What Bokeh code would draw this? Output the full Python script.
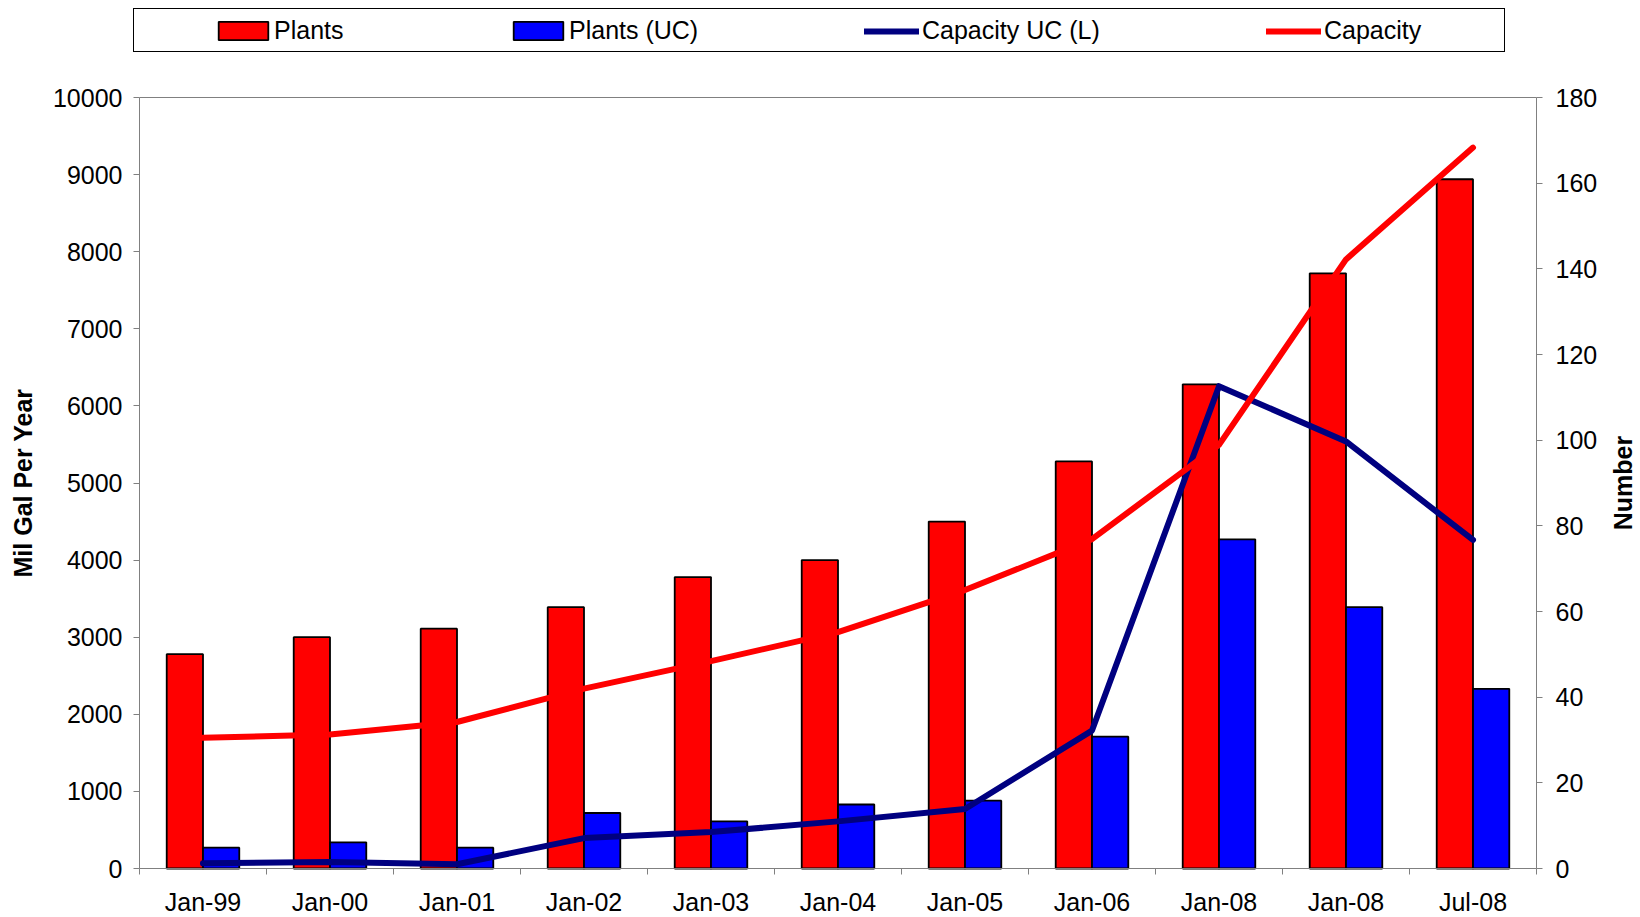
import math
from bokeh.plotting import figure
from bokeh.models import (Range1d, LinearAxis, FixedTicker, Legend, LegendItem,
                          ColumnDataSource, Label)
from bokeh.embed import file_html
from bokeh.resources import INLINE

# ---------------- data ----------------
categories = ["Jan-99", "Jan-00", "Jan-01", "Jan-02", "Jan-03", "Jan-04",
              "Jan-05", "Jan-06", "Jan-08", "Jan-08", "Jul-08"]
plants = [2780, 3000, 3110, 3390, 3780, 4000, 4500, 5280, 6280, 7720, 8940]
plants_uc = [270, 340, 270, 720, 610, 830, 880, 1710, 4270, 3390, 2330]
capacity_uc = [1.2, 1.5, 1.0, 7.1, 8.5, 11.0, 13.9, 32.2, 112.6, 99.7, 76.7]
capacity = [30.5, 31.3, 34.2, 42.0, 48.4, 55.2, 65.0, 76.9, 98.9, 142.2, 168.3]
left_max, right_max = 10000, 180
left_ticks = list(range(0, left_max + 1, 1000))
right_ticks = list(range(0, right_max + 1, 20))

FONT = "Liberation Sans"
FS = "25px"
RED = "#FF0000"
BLUE = "#0000FF"
NAVY = "#000080"
GRAY = "#808080"

# ---------------- layout constants (pixels inside the figure) ----------------
W, H = 1638, 917
PLOT_L, PLOT_R = 139, 1536   # pixel columns of the plot-area edges
AX_TOP, AX_ZERO = 97, 868    # pixel rows of the axis maximum and of zero

n = len(categories)
px_per_cat = (PLOT_R - PLOT_L) / n
x_lo = -PLOT_L / px_per_cat
x_hi = n + (W - PLOT_R) / px_per_cat
px_per_left = (AX_ZERO - AX_TOP) / left_max
px_per_right = (AX_ZERO - AX_TOP) / right_max
y_lo = -(H - AX_ZERO) / px_per_left
y_hi = left_max + AX_TOP / px_per_left
yr_lo = -(H - AX_ZERO) / px_per_right
yr_hi = right_max + AX_TOP / px_per_right

bar_w = 1 / 3.5
centers = [i + 0.5 for i in range(n)]
boundaries = [float(i) for i in range(n + 1)]

src = ColumnDataSource(dict(
    xc=centers,
    xr=[c - bar_w / 2 for c in centers],
    xb=[c + bar_w / 2 for c in centers],
    plants=plants, plants_uc=plants_uc,
    capacity_uc=capacity_uc, capacity=capacity,
))

p = figure(width=W, height=H, x_range=Range1d(x_lo, x_hi), y_range=Range1d(y_lo, y_hi),
           output_backend="svg", toolbar_location=None,
           x_axis_location=None, y_axis_location=None,
           min_border_left=0, min_border_right=0,
           min_border_top=0, min_border_bottom=0)
p.extra_y_ranges = {"right": Range1d(yr_lo, yr_hi)}
p.grid.visible = False
p.outline_line_color = None
p.background_fill_color = "white"
p.border_fill_color = "white"

def style_axis(ax):
    ax.axis_line_color = GRAY
    ax.major_tick_line_color = GRAY
    ax.minor_tick_line_color = GRAY
    ax.major_label_text_font = FONT
    ax.major_label_text_font_size = FS
    ax.major_label_text_color = "black"
    ax.axis_label_text_font = FONT
    ax.axis_label_text_font_size = FS
    ax.axis_label_text_font_style = "bold"
    ax.axis_label_text_color = "black"

left = LinearAxis(ticker=FixedTicker(ticks=left_ticks), axis_label="Mil Gal Per Year",
                  bounds=(0, left_max), fixed_location=0)
style_axis(left)
left.major_tick_out = 6
left.major_tick_in = 0
left.minor_tick_out = 0
left.minor_tick_in = 0
left.major_label_standoff = 11
left.axis_label_standoff = 13
p.add_layout(left, "left")

right = LinearAxis(y_range_name="right", ticker=FixedTicker(ticks=right_ticks),
                   bounds=(0, right_max), fixed_location=n)
style_axis(right)
right.major_tick_out = 6
right.major_tick_in = 0
right.minor_tick_out = 0
right.minor_tick_in = 0
right.major_label_standoff = 13
p.add_layout(right, "right")

# right axis title, reading bottom-to-top, centred on the axis
p.add_layout(Label(x=1622, y=H - (AX_TOP + AX_ZERO) / 2, x_units="screen", y_units="screen",
                   text="Number", angle=math.pi / 2, text_align="center",
                   text_baseline="middle", text_font=FONT, text_font_size=FS,
                   text_font_style="bold", text_color="black"))

bottom = LinearAxis(ticker=FixedTicker(ticks=centers, minor_ticks=boundaries),
                    major_label_overrides={c: lab for c, lab in zip(centers, categories)},
                    fixed_location=0, bounds=(0, n))
style_axis(bottom)
bottom.major_tick_out = 0
bottom.major_tick_in = 0
bottom.minor_tick_out = 6
bottom.minor_tick_in = 0
bottom.major_label_standoff = 13
p.add_layout(bottom, "below")

# top border of the plot area: a bare axis line at the axis maximum
top = LinearAxis(ticker=FixedTicker(ticks=[]), fixed_location=left_max, bounds=(0, n))
top.axis_line_color = GRAY
top.major_tick_out = 0
top.major_tick_in = 0
top.minor_tick_out = 0
top.minor_tick_in = 0
top.major_label_text_font_size = "0px"
p.add_layout(top, "above")

r_pl = p.vbar(x="xr", top="plants", bottom=0, width=bar_w, source=src,
              fill_color=RED, line_color="black", line_width=1.8)
r_uc = p.vbar(x="xb", top="plants_uc", bottom=0, width=bar_w, source=src,
              fill_color=BLUE, line_color="black", line_width=1.8)
r_cuc = p.line(x="xc", y="capacity_uc", source=src, y_range_name="right",
               line_color=NAVY, line_width=6, line_join="round", line_cap="round")
r_cap = p.line(x="xc", y="capacity", source=src, y_range_name="right",
               line_color=RED, line_width=6, line_join="round", line_cap="round")
# invisible helper renderer: only gives the legend frame its size
r_box = p.line(x="xc", y="capacity", source=src, y_range_name="right", line_alpha=0)

# ---------------- legend ----------------
box = Legend(items=[LegendItem(label=" ", renderers=[r_box])],
             location=(133, H - 52), orientation="horizontal",
             glyph_width=1350, glyph_height=42, label_standoff=0, label_height=42,
             padding=0, margin=0, spacing=0,
             border_line_color="black", border_line_width=1, border_line_alpha=1,
             background_fill_color="white", background_fill_alpha=1,
             label_text_font=FONT, label_text_font_size=FS, label_text_alpha=0)
p.add_layout(box, "center")

def add_legend(renderer, label, x, gw, gh, standoff):
    lg = Legend(items=[LegendItem(label=label, renderers=[renderer])],
                location=(x, H - 45), orientation="horizontal",
                glyph_width=gw, glyph_height=gh, label_standoff=standoff,
                padding=0, margin=0, spacing=0,
                border_line_alpha=0, background_fill_alpha=0,
                label_text_font=FONT, label_text_font_size=FS,
                label_text_color="black", label_height=28)
    p.add_layout(lg, "center")

add_legend(r_pl, "Plants", 212, 62, 23, 0)
add_legend(r_uc, "Plants (UC)", 507, 62, 23, 0)
add_legend(r_cuc, "Capacity UC (L)", 864, 55, 28, 3)
add_legend(r_cap, "Capacity", 1266, 55, 28, 3)

open("out.html", "w").write(file_html(p, INLINE))
